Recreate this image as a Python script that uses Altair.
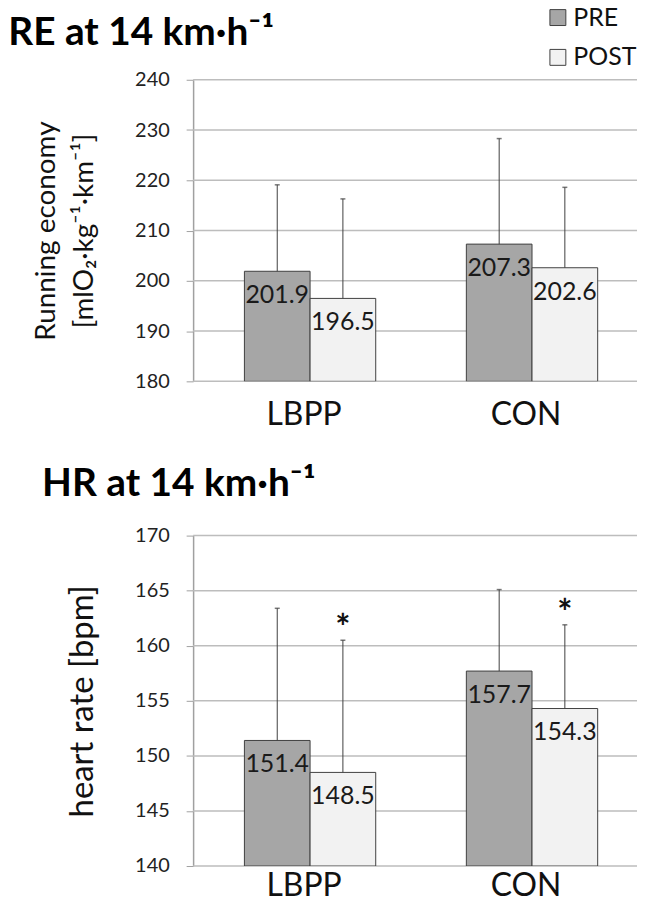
import altair as alt
import pandas as pd

# ---- data ----
groups = ["LBPP", "LBPP", "CON", "CON"]
phases = ["PRE", "POST", "PRE", "POST"]
re_mean = [201.9, 196.5, 207.3, 202.6]
re_upper = [219.1, 216.3, 228.3, 218.6]
hr_mean = [151.4, 148.5, 157.7, 154.3]
hr_upper = [163.4, 160.5, 165.1, 161.9]
hr_sig = ["", "*", "", "*"]
re_ticks = [180, 190, 200, 210, 220, 230, 240]
hr_ticks = [140, 145, 150, 155, 160, 165, 170]
group_order = ["LBPP", "CON"]
phase_order = ["PRE", "POST"]

FONT = "Lato"
PRE_COLOR = "#a6a6a6"
POST_COLOR = "#f2f2f2"
EDGE = "#404040"
GRID = "#bdbdbd"

re_df = pd.DataFrame({"group": groups, "phase": phases, "mean": re_mean,
                      "upper": re_upper, "sig": [""] * 4})
hr_df = pd.DataFrame({"group": groups, "phase": phases, "mean": hr_mean,
                      "upper": hr_upper, "sig": hr_sig})


def panel(df, ticks, ytitle, title_text, height, show_legend, title_offset, title_dy,
          ytitle_size, ytitle_pad, xlabel_pad):
    base = alt.Chart(df)
    x = alt.X("group:N", sort=group_order,
              scale=alt.Scale(paddingInner=0, paddingOuter=0),
              axis=alt.Axis(title=None, labelAngle=0, labelFontSize=32, labelFont=FONT,
                            labelColor="#111111", labelPadding=xlabel_pad, domain=False,
                            ticks=False, grid=False))
    xo = alt.XOffset("phase:N", sort=phase_order,
                     scale=alt.Scale(paddingOuter=0.69, paddingInner=0, align=0.566))
    yscale = alt.Scale(domain=[ticks[0], ticks[-1]], nice=False, zero=False)
    yaxis = alt.Axis(values=ticks, title=ytitle, titleFont=FONT,
                     titleFontSize=ytitle_size,
                     titleFontWeight="normal", titleColor="#111111", titlePadding=ytitle_pad,
                     titleLineHeight=38, grid=False,
                     labelFont=FONT, labelFontSize=20, labelColor="#222222", labelPadding=17,
                     tickSize=7, tickColor="#a0a0a0", domainColor="#a0a0a0", domainWidth=1.5)
    legend = (alt.Legend(title=None, orient="none", legendX=354, legendY=-75,
                         symbolType="square", symbolSize=256, symbolStrokeColor=EDGE,
                         symbolStrokeWidth=1, labelFont=FONT, labelFontSize=25,
                         labelColor="#111111", rowPadding=14, labelOffset=3, padding=0)
              if show_legend else None)
    color = alt.Color("phase:N", sort=phase_order,
                      scale=alt.Scale(domain=phase_order, range=[PRE_COLOR, POST_COLOR]),
                      legend=legend)
    grid = alt.Chart(pd.DataFrame({"tick": ticks})).mark_rule(
        color=GRID, strokeWidth=1.5).encode(y=alt.Y("tick:Q", scale=yscale, axis=yaxis))
    bars = base.mark_bar(stroke=EDGE, strokeWidth=1, opacity=1, clip=True).encode(
        x=x, xOffset=xo, y=alt.Y("mean:Q", scale=yscale, axis=yaxis),
        y2=alt.datum(ticks[0]), color=color)
    rules = base.mark_rule(color=EDGE, strokeWidth=1).encode(
        x=x, xOffset=xo, y=alt.Y("mean:Q", scale=yscale, axis=yaxis), y2="upper:Q")
    caps = base.mark_tick(color=EDGE, thickness=1.5, size=5).encode(
        x=x, xOffset=xo, y=alt.Y("upper:Q", scale=yscale, axis=yaxis))
    labels = base.mark_text(baseline="top", dy=12, fontSize=25, font=FONT,
                            color="#1a1a1a").encode(
        x=x, xOffset=xo, y=alt.Y("mean:Q", scale=yscale, axis=yaxis),
        text=alt.Text("mean:Q", format=".1f"))
    stars = base.mark_text(baseline="alphabetic", dy=0, fontSize=36, font=FONT,
                           fontWeight="bold", color="#111111").encode(
        x=x, xOffset=xo, y=alt.Y("upper:Q", scale=yscale, axis=yaxis), text="sig:N")
    return alt.layer(grid, bars, rules, caps, labels, stars).properties(
        width=446, height=height,
        title=alt.TitleParams(text=title_text, anchor="start", frame="bounds",
                              font=FONT, fontSize=39, fontWeight="bold", color="#000000",
                              baseline="alphabetic", offset=title_offset, dy=title_dy,
                              dx=-25))


top = panel(re_df, re_ticks, ["Running economy", "[mlO₂·kg⁻¹·km⁻¹]"],
            "RE at 14 km·h⁻¹", 303, True, -31, 48, 28, 36, 18)
bottom = panel(hr_df, hr_ticks, "heart rate [bpm]",
               "HR at 14 km·h⁻¹", 332, False, 44, 53, 33, 35, 5)

chart = alt.vconcat(top, bottom, spacing=35).resolve_scale(color="independent").properties(
    padding={"left": 0, "top": -5, "right": 0, "bottom": -8}
).configure(background="white").configure_view(strokeWidth=0)

chart.save("out.html", embed_options={"renderer": "svg", "actions": False})
